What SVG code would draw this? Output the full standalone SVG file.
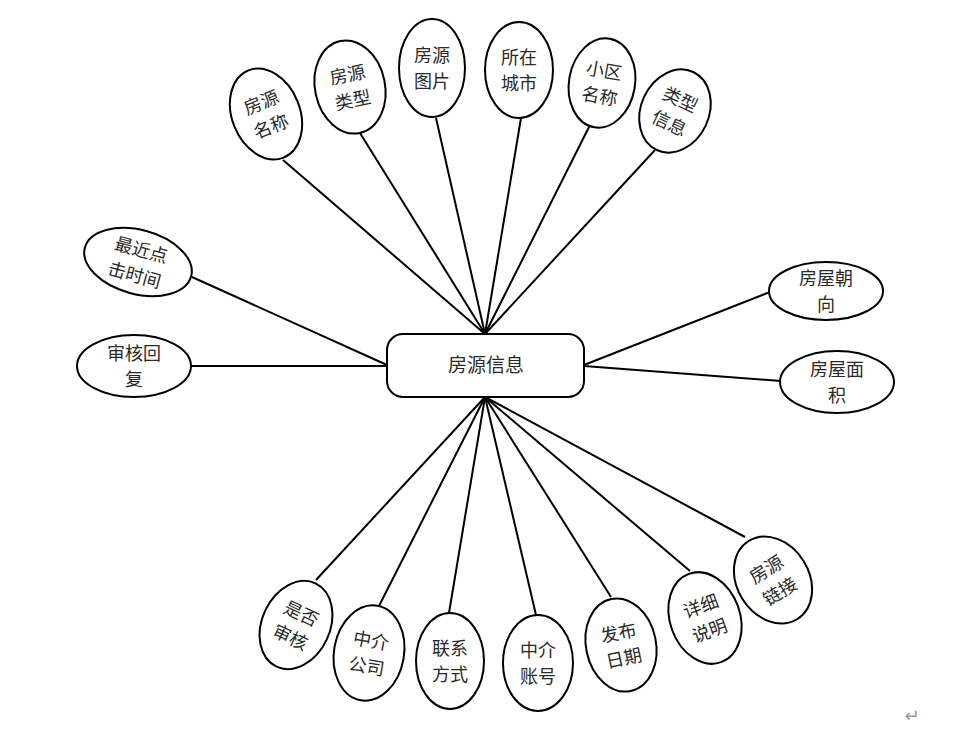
<svg xmlns="http://www.w3.org/2000/svg" width="975" height="734" viewBox="0 0 975 734">
<style>
.e{fill:#fff;stroke:#000;stroke-width:2}
.t{font-family:"Noto Sans CJK SC","Noto Sans CJK JP",sans-serif;font-size:18px;fill:#2a2a2a;text-anchor:middle}
.c line{stroke:#000;stroke-width:2}
</style>
<rect width="975" height="734" fill="#fff"/>
<g class="c">
<line x1="485" y1="334" x2="283" y2="160"/>
<line x1="485" y1="334" x2="360" y2="133"/>
<line x1="485" y1="334" x2="436" y2="118"/>
<line x1="485" y1="334" x2="521" y2="118"/>
<line x1="485" y1="334" x2="590" y2="125"/>
<line x1="485" y1="334" x2="655" y2="150"/>
<line x1="387" y1="365" x2="192" y2="277"/>
<line x1="387" y1="366" x2="191" y2="366"/>
<line x1="584" y1="365" x2="770" y2="292"/>
<line x1="584" y1="366" x2="781" y2="381"/>
<line x1="485" y1="397" x2="316" y2="580"/>
<line x1="485" y1="397" x2="379" y2="606"/>
<line x1="485" y1="397" x2="449" y2="613"/>
<line x1="485" y1="397" x2="536" y2="615"/>
<line x1="485" y1="397" x2="611" y2="597"/>
<line x1="485" y1="397" x2="690" y2="571"/>
<line x1="485" y1="397" x2="745" y2="537"/>
</g>
<g id="center">
<rect x="387" y="334" width="197" height="63" rx="16" class="e"/>
<text x="486" y="372" class="t" style="font-size:19px">房源信息</text>
</g>
<g id="n1" transform="translate(266,114) rotate(-22)"><ellipse rx="34" ry="47" class="e"/><text class="t"><tspan x="0" y="-6">房源</tspan><tspan x="0" y="20">名称</tspan></text></g>
<g id="n2" transform="translate(350,87) rotate(-12)"><ellipse rx="35" ry="47" class="e"/><text class="t"><tspan x="0" y="-6">房源</tspan><tspan x="0" y="20">类型</tspan></text></g>
<g id="n3" transform="translate(432,68)"><ellipse rx="33" ry="49" class="e"/><text class="t"><tspan x="0" y="-6">房源</tspan><tspan x="0" y="20">图片</tspan></text></g>
<g id="n4" transform="translate(519,70)"><ellipse rx="34" ry="48" class="e"/><text class="t"><tspan x="0" y="-6">所在</tspan><tspan x="0" y="20">城市</tspan></text></g>
<g id="n5" transform="translate(602,83) rotate(10)"><ellipse rx="33" ry="45" class="e"/><text class="t"><tspan x="0" y="-6">小区</tspan><tspan x="0" y="20">名称</tspan></text></g>
<g id="n6" transform="translate(675,111) rotate(25)"><ellipse rx="34" ry="43" class="e"/><text class="t"><tspan x="0" y="-6">类型</tspan><tspan x="0" y="20">信息</tspan></text></g>
<g id="n7" transform="translate(138,262) rotate(15)"><ellipse rx="55" ry="32" class="e"/><text class="t"><tspan x="0" y="-6">最近点</tspan><tspan x="0" y="20">击时间</tspan></text></g>
<g id="n8" transform="translate(134,366)"><ellipse rx="57" ry="31" class="e"/><text class="t"><tspan x="0" y="-6">审核回</tspan><tspan x="0" y="20">复</tspan></text></g>
<g id="n9" transform="translate(826,291)"><ellipse rx="57" ry="29" class="e"/><text class="t"><tspan x="0" y="-6">房屋朝</tspan><tspan x="0" y="20">向</tspan></text></g>
<g id="n10" transform="translate(837,382)"><ellipse rx="57" ry="31" class="e"/><text class="t"><tspan x="0" y="-6">房屋面</tspan><tspan x="0" y="20">积</tspan></text></g>
<g id="n11" transform="translate(296,625) rotate(25)"><ellipse rx="34" ry="46" class="e"/><text class="t"><tspan x="0" y="-6">是否</tspan><tspan x="0" y="20">审核</tspan></text></g>
<g id="n12" transform="translate(369,653) rotate(10)"><ellipse rx="35" ry="48" class="e"/><text class="t"><tspan x="0" y="-6">中介</tspan><tspan x="0" y="20">公司</tspan></text></g>
<g id="n13" transform="translate(450,661)"><ellipse rx="34" ry="48" class="e"/><text class="t"><tspan x="0" y="-6">联系</tspan><tspan x="0" y="20">方式</tspan></text></g>
<g id="n14" transform="translate(538,663)"><ellipse rx="35" ry="48" class="e"/><text class="t"><tspan x="0" y="-6">中介</tspan><tspan x="0" y="20">账号</tspan></text></g>
<g id="n15" transform="translate(621,645) rotate(-12)"><ellipse rx="35" ry="47" class="e"/><text class="t"><tspan x="0" y="-6">发布</tspan><tspan x="0" y="20">日期</tspan></text></g>
<g id="n16" transform="translate(705,618) rotate(-20)"><ellipse rx="35" ry="47" class="e"/><text class="t"><tspan x="0" y="-6">详细</tspan><tspan x="0" y="20">说明</tspan></text></g>
<g id="n17" transform="translate(773,580) rotate(-32)"><ellipse rx="36" ry="46" class="e"/><text class="t"><tspan x="0" y="-6">房源</tspan><tspan x="0" y="20">链接</tspan></text></g>
<text x="912" y="722" style="font-family:'DejaVu Sans',sans-serif;font-size:18px;fill:#999;text-anchor:middle">↵</text>
</svg>
